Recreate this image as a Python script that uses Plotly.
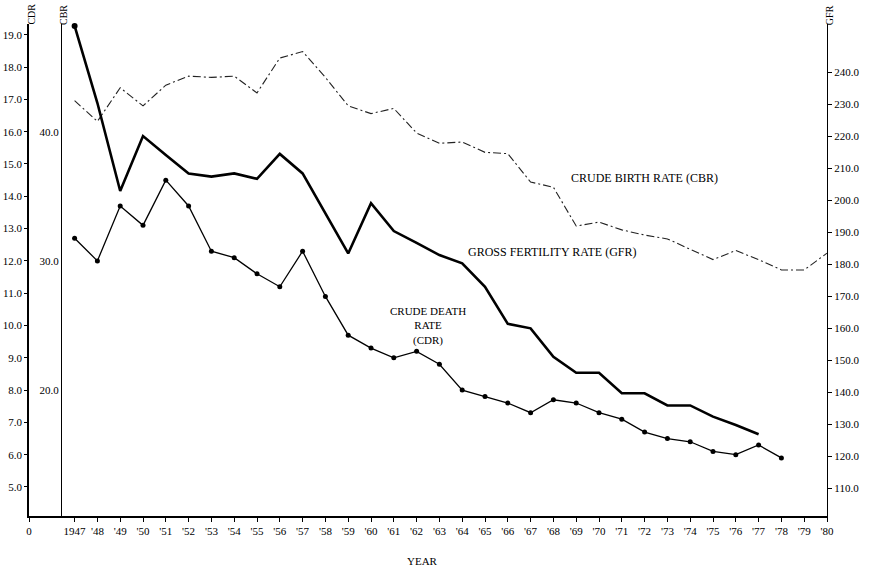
import plotly.graph_objects as go

# ---- data ----
years_cdr = list(range(1947, 1979))
cdr = [12.7, 12.0, 13.7, 13.1, 14.5, 13.7, 12.3, 12.1, 11.6, 11.2, 12.3, 10.9,
       9.7, 9.3, 9.0, 9.2, 8.8, 8.0, 7.8, 7.6, 7.3, 7.7, 7.6, 7.3, 7.1, 6.7,
       6.5, 6.4, 6.1, 6.0, 6.3, 5.9]

years_gfr = list(range(1947, 1978))
gfr = [254.4, 230.3, 202.8, 220.0, 214.1, 208.3, 207.3, 208.3, 206.6, 214.4,
       208.3, 195.8, 183.3, 199.0, 190.3, 186.6, 182.8, 180.2, 172.9, 161.3,
       159.9, 151.0, 146.0, 146.0, 139.6, 139.6, 135.8, 135.8, 132.3, 129.7,
       126.8]

years_cbr = list(range(1947, 1981))
cbr = [42.4, 40.8, 43.4, 42.0, 43.6, 44.3, 44.2, 44.3, 43.0, 45.7, 46.2, 44.2,
       42.0, 41.4, 41.8, 39.9, 39.1, 39.2, 38.4, 38.3, 36.1, 35.7, 32.7, 33.0,
       32.4, 32.0, 31.7, 30.9, 30.1, 30.8, 30.1, 29.3, 29.3, 30.6]

x_tickvals = [1945] + list(range(1947, 1981))
x_ticktext = ["0", "1947"] + ["'%02d" % (y % 100) for y in range(1948, 1981)]

cdr_ticks = [float(v) for v in range(5, 20)]
cbr_ticks = [20.0, 30.0, 40.0]
gfr_ticks = [float(v) for v in range(110, 250, 10)]

FONT = "Liberation Serif"
INK = "black"

fig = go.Figure()

# crude birth rate: dash-dot line on its own axis
fig.add_trace(go.Scatter(
    x=years_cbr, y=cbr, yaxis="y2", mode="lines",
    line=dict(color="#222222", width=1.1, dash="8px,3px,2px,3px"),
    showlegend=False))

# gross fertility rate: heavy line on the right axis
fig.add_trace(go.Scatter(
    x=years_gfr, y=gfr, yaxis="y3", mode="lines",
    line=dict(color=INK, width=2.6), showlegend=False))
fig.add_trace(go.Scatter(
    x=years_gfr[:1], y=gfr[:1], yaxis="y3", mode="markers",
    marker=dict(color=INK, size=6), showlegend=False, cliponaxis=False))

# crude death rate: thin line with dots
fig.add_trace(go.Scatter(
    x=years_cdr, y=cdr, mode="lines+markers",
    line=dict(color=INK, width=1.3),
    marker=dict(color=INK, size=5), showlegend=False))

tickfont = dict(family=FONT, size=11, color=INK)

fig.update_layout(
    width=871, height=569,
    margin=dict(l=29, r=44, t=24, b=53),
    paper_bgcolor="white", plot_bgcolor="white",
    font=dict(family=FONT, color=INK),
    xaxis=dict(
        range=[1945, 1980], tickmode="array", automargin=False,
        tickvals=x_tickvals, ticktext=x_ticktext,
        showgrid=False, zeroline=False, showline=True,
        linecolor=INK, linewidth=1.5, ticks="outside", ticklen=4,
        tickcolor=INK, tickfont=tickfont),
    yaxis=dict(
        range=[4.102, 19.334], tickmode="array", tickvals=cdr_ticks,
        automargin=False,
        tickformat=".1f", showgrid=False, zeroline=False, showline=True,
        linecolor=INK, linewidth=1.8, ticks="outside", ticklen=3,
        tickcolor=INK, tickfont=tickfont),
    yaxis2=dict(
        range=[10.255, 48.335], tickmode="array", tickvals=cbr_ticks,
        automargin=False,
        tickformat=".1f", overlaying="y", anchor="free", position=0.0401,
        side="left", showgrid=False, zeroline=False, showline=True,
        linecolor=INK, linewidth=1.2, ticks="", tickfont=tickfont),
    yaxis3=dict(
        range=[101.25, 255.0], tickmode="array", tickvals=gfr_ticks,
        automargin=False,
        tickformat=".1f", overlaying="y", anchor="x", side="right",
        showgrid=False, zeroline=False, showline=True,
        linecolor=INK, linewidth=1.2, ticks="outside", ticklen=4,
        tickcolor=INK, tickfont=tickfont),
)

def note(text, x, y, size=12, angle=0):
    fig.add_annotation(
        text=text, x=x, y=y, xref="paper", yref="paper",
        showarrow=False, textangle=angle,
        font=dict(family=FONT, size=size, color=INK),
        xanchor="center", yanchor="middle", align="center")

note("CRUDE BIRTH RATE (CBR)", 0.7707, 0.687)
note("GROSS FERTILITY RATE (GFR)", 0.6566, 0.5366)
note("CRUDE DEATH<br>RATE<br>(CDR)", 0.500, 0.386, size=11)
note("YEAR", 0.4937, -0.0915, size=11)
note("CDR", 0.0020, 1.0203, size=10, angle=-90)
note("CBR", 0.0439, 1.0183, size=10, angle=-90)
note("GFR", 1.0025, 1.018, size=10, angle=-90)

fig.write_html("out.html")
